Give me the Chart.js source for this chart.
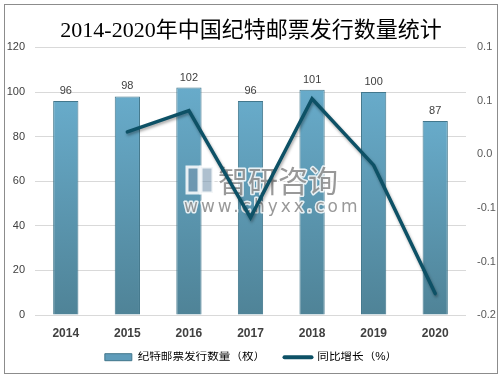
<!DOCTYPE html>
<html>
<head>
<meta charset="utf-8">
<script src="https://cdn.jsdelivr.net/npm/chart.js@4.4.1/dist/chart.umd.min.js"></script>
<style>
  html, body { margin: 0; padding: 0; background: #fff; }
  #wrap { width: 502px; height: 377px; }
</style>
</head>
<body>
<div id="wrap"><canvas id="stampChart" width="502" height="377"></canvas></div>
<script>
// Datos del gráfico
const years = ['2014', '2015', '2016', '2017', '2018', '2019', '2020'];
const stampCounts = [96, 98, 102, 96, 101, 100, 87];
const growthRates = [null, 0.021, 0.041, -0.059, 0.052, -0.010, -0.130];
const leftTicks = [0, 20, 40, 60, 80, 100, 120];
const rightTickValues = [-0.15, -0.1, -0.05, 0, 0.05, 0.1];
const rightTickLabels = ['-0.2', '-0.1', '-0.1', '0.0', '0.1', '0.1'];

const FONT_SANS = '"Liberation Sans", "Noto Sans CJK SC", sans-serif';
const FONT_TITLE = '"Liberation Serif", "Noto Sans CJK SC", serif';
const LINE_COLOR = '#0d5166';

// Degradado por barra (claro arriba, oscuro abajo)
function barGradient(context) {
    const chart = context.chart;
    const area = chart.chartArea;
    if (!area || context.dataIndex === undefined) return '#5f9fbd';
    const top = chart.scales.y.getPixelForValue(stampCounts[context.dataIndex]);
    const g = chart.ctx.createLinearGradient(0, top, 0, area.bottom);
    g.addColorStop(0, '#68abca');
    g.addColorStop(1, '#4f8397');
    return g;
}

// Marco exterior gris
const framePlugin = {
    id: 'frame',
    beforeDraw(chart) {
        const c = chart.ctx;
        c.save();
        c.fillStyle = '#fff';
        c.fillRect(0, 0, chart.width, chart.height);
        c.strokeStyle = '#8c8c8c';
        c.lineWidth = 1;
        c.strokeRect(4.5, 4.5, 493, 369);
        c.restore();
    }
};

// Sombra para la línea
const lineShadowPlugin = {
    id: 'lineShadow',
    beforeDatasetDraw(chart, args) {
        if (args.meta.type !== 'line') return;
        const c = chart.ctx;
        c.save();
        c.shadowColor = 'rgba(0, 0, 0, 0.35)';
        c.shadowBlur = 3;
        c.shadowOffsetX = 1;
        c.shadowOffsetY = 2;
    },
    afterDatasetDraw(chart, args) {
        if (args.meta.type !== 'line') return;
        chart.ctx.restore();
    }
};

// Marca de agua (se dibuja sobre las barras y debajo de la línea)
const watermarkPlugin = {
    id: 'watermark',
    afterDatasetDraw(chart, args) {
        if (args.meta.type !== 'bar') return;
        const c = chart.ctx;
        c.save();
        // icono sencillo
        c.strokeStyle = 'rgba(255,255,255,0.85)';
        c.lineWidth = 3;
        c.fillStyle = 'rgba(120,150,175,0.6)';
        c.fillRect(187, 167, 12, 26);
        c.fillRect(201, 167, 12, 26);
        c.strokeRect(187, 167, 12, 26);
        c.strokeRect(201, 167, 12, 26);
        c.font = '30px "Noto Sans CJK SC", sans-serif';
        c.textAlign = 'left';
        c.textBaseline = 'middle';
        c.lineJoin = 'round';
        c.lineWidth = 3;
        c.strokeText('智研咨询', 218, 181);
        c.fillStyle = 'rgba(110,110,110,0.7)';
        c.fillText('智研咨询', 218, 181);
        c.font = '17px "DejaVu Sans", sans-serif';
        c.letterSpacing = '3px';
        c.strokeText('www.chyxx.com', 184, 208);
        c.fillText('www.chyxx.com', 184, 208);
        c.restore();
    }
};

// Etiquetas de valor encima de las barras
const barLabelsPlugin = {
    id: 'barLabels',
    afterDatasetsDraw(chart) {
        const c = chart.ctx;
        const meta = chart.getDatasetMeta(1);
        c.save();
        c.font = '11px ' + FONT_SANS;
        c.fillStyle = '#404040';
        c.textAlign = 'center';
        c.textBaseline = 'middle';
        meta.data.forEach((bar, i) => {
            c.fillText(String(stampCounts[i]), bar.x, bar.y - 10);
        });
        c.restore();
    }
};

const ctx = document.getElementById('stampChart').getContext('2d');
new Chart(ctx, {
    data: {
        labels: years,
        datasets: [
            {
                type: 'line',
                label: '同比增长（%）',
                data: growthRates,
                yAxisID: 'y1',
                borderColor: LINE_COLOR,
                borderWidth: 3.5,
                borderCapStyle: 'round',
                borderJoinStyle: 'miter',
                pointRadius: 0,
                tension: 0,
                fill: false,
                order: 0
            },
            {
                type: 'bar',
                label: '纪特邮票发行数量（枚）',
                data: stampCounts,
                yAxisID: 'y',
                backgroundColor: barGradient,
                borderColor: '#42778c',
                borderWidth: 1,
                barPercentage: 0.41,
                categoryPercentage: 1,
                order: 1
            }
        ]
    },
    options: {
        responsive: false,
        animation: false,
        layout: {
            padding: { top: 0, right: 6, bottom: 4, left: 6 }
        },
        plugins: {
            title: {
                display: true,
                text: '2014-2020年中国纪特邮票发行数量统计',
                color: '#000',
                font: { family: FONT_TITLE, size: 22, weight: 'normal' },
                padding: { top: 18, bottom: 3 }
            },
            legend: {
                position: 'bottom',
                labels: {
                    usePointStyle: true,
                    pointStyleWidth: 27,
                    boxHeight: 7,
                    padding: 0,
                    color: '#404040',
                    font: { family: FONT_SANS, size: 11.6 },
                    generateLabels: function() {
                        return [
                            {
                                // espacios finales para separar las dos entradas
                                text: '纪特邮票发行数量（枚）      ',
                                fillStyle: '#5f9cba',
                                strokeStyle: '#42778c',
                                lineWidth: 1,
                                pointStyle: 'rect',
                                datasetIndex: 1
                            },
                            {
                                text: '同比增长（%）',
                                fillStyle: LINE_COLOR,
                                strokeStyle: LINE_COLOR,
                                lineWidth: 4,
                                lineCap: 'round',
                                pointStyle: 'line',
                                datasetIndex: 0
                            }
                        ];
                    }
                },
                onClick: null
            },
            tooltip: { enabled: false }
        },
        scales: {
            x: {
                grid: { display: false, drawTicks: false },
                border: { display: false },
                ticks: {
                    color: '#404040',
                    padding: 11,
                    font: { family: FONT_SANS, size: 12, weight: 'bold' }
                }
            },
            y: {
                position: 'left',
                min: 0,
                max: 120,
                afterBuildTicks: axis => { axis.ticks = leftTicks.map(v => ({ value: v })); },
                afterFit: axis => { axis.width = 29; },
                grid: { color: '#d9d9d9', drawTicks: false },
                border: { display: false },
                ticks: {
                    color: '#404040',
                    padding: 10,
                    font: { family: FONT_SANS, size: 11 }
                }
            },
            y1: {
                position: 'right',
                min: -0.15,
                max: 0.1,
                afterBuildTicks: axis => { axis.ticks = rightTickValues.map(v => ({ value: v })); },
                afterFit: axis => { axis.width = 30; },
                grid: { display: false, drawTicks: false },
                border: { display: false },
                ticks: {
                    color: '#595959',
                    padding: 11,
                    font: { family: FONT_SANS, size: 11 },
                    callback: function(value, index) {
                        return rightTickLabels[index];
                    }
                }
            }
        }
    },
    plugins: [framePlugin, lineShadowPlugin, watermarkPlugin, barLabelsPlugin]
});
</script>
</body>
</html>
